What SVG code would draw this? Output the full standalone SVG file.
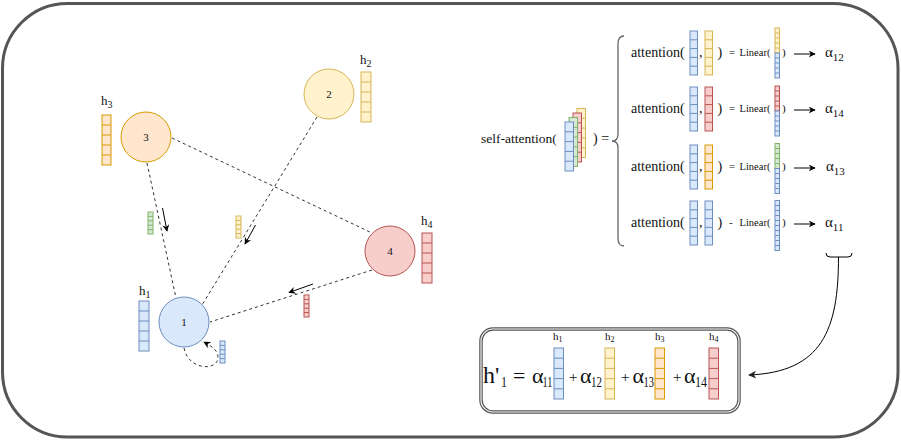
<svg xmlns="http://www.w3.org/2000/svg" width="901" height="441" viewBox="0 0 901 441">
  <defs>
    <marker id="arr" viewBox="0 0 10 10" refX="9" refY="5" markerWidth="7" markerHeight="7" orient="auto" markerUnits="userSpaceOnUse">
      <path d="M0,0 L10,5 L0,10 L3,5 Z" fill="#000"/>
    </marker>
    <marker id="arrS" viewBox="0 0 10 10" refX="9" refY="5" markerWidth="8" markerHeight="8" orient="auto" markerUnits="userSpaceOnUse">
      <path d="M0,0 L10,5 L0,10 L3,5 Z" fill="#222"/>
    </marker>
    <style>
      text { font-family: "Liberation Serif", "Times New Roman", serif; fill: #111; }
      .b rect, .b path { fill: #dae8fc; stroke: #6c8ebf; stroke-width: 1; }
      .y rect, .y path { fill: #fff2cc; stroke: #d6b656; stroke-width: 1; }
      .o rect, .o path { fill: #ffe6cc; stroke: #d79b00; stroke-width: 1; }
      .r rect, .r path { fill: #f8cecc; stroke: #b85450; stroke-width: 1; }
      .g rect, .g path { fill: #d5e8d4; stroke: #82b366; stroke-width: 1; }
      .edge { fill: none; stroke: #333; stroke-width: 1; stroke-dasharray: 3 3; }
      .flow { fill: none; stroke: #000; stroke-width: 1; }
      .lbl { font-size: 11px; text-anchor: middle; }
      .sub { font-size: 14px; }
    </style>
  </defs>

  <!-- outer frame -->
  <rect x="2.5" y="3.5" width="895.5" height="433.5" rx="65" ry="65" fill="#fff" stroke="#555" stroke-width="3"/>

  <!-- graph connectors -->
  <g id="connectors">
    <line class="edge" x1="147" y1="163" x2="176" y2="298"/>
    <line class="edge" x1="317" y1="117" x2="202" y2="305"/>
    <line class="edge" x1="172" y1="138" x2="372" y2="233"/>
    <line class="edge" x1="372" y1="270" x2="210" y2="322"/>
    <path class="edge" d="M184,348 C188,370 218,372 218,357 C218,350 211,346 204,342" marker-end="url(#arr)"/>
    <!-- message direction arrows -->
    <line class="flow" x1="162.5" y1="208" x2="167" y2="231" marker-end="url(#arr)"/>
    <line class="flow" x1="255.5" y1="225" x2="245" y2="244" marker-end="url(#arr)"/>
    <line class="flow" x1="313" y1="284" x2="289" y2="292.5" marker-end="url(#arr)"/>
    <!-- weights feed the aggregation -->
    <path class="flow" d="M826,253 Q826,257 830,257 L848,257 Q852,257 852,253" stroke="#333"/>
    <path class="flow" d="M838.5,257 C838.5,330 822,372 749,375" stroke="#333" marker-end="url(#arrS)"/>
  </g>

  <!-- graph nodes -->
  <g id="node1">
    <circle cx="184" cy="322" r="25" fill="#dae8fc" stroke="#6c8ebf"/>
    <text class="lbl" x="184" y="326">1</text>
  </g>
  <g id="node2">
    <circle cx="329" cy="94" r="25" fill="#fff2cc" stroke="#d6b656"/>
    <text class="lbl" x="329" y="98">2</text>
  </g>
  <g id="node3">
    <circle cx="146" cy="137" r="25" fill="#ffe6cc" stroke="#d79b00"/>
    <text class="lbl" x="146" y="141">3</text>
  </g>
  <g id="node4">
    <circle cx="390" cy="251" r="25" fill="#f8cecc" stroke="#b85450"/>
    <text class="lbl" x="390" y="255">4</text>
  </g>

  <!-- node feature vectors -->
  <g id="h1">
    <text x="139" y="295" font-size="13">h<tspan font-size="10" dy="3">1</tspan></text>
    <g class="b"><rect x="139" y="301" width="10" height="50"/><path d="M139,311h10M139,321h10M139,331h10M139,341h10"/></g>
  </g>
  <g id="h2">
    <text x="360" y="64" font-size="13">h<tspan font-size="10" dy="3">2</tspan></text>
    <g class="y"><rect x="361" y="72" width="10" height="50"/><path d="M361,82h10M361,92h10M361,102h10M361,112h10"/></g>
  </g>
  <g id="h3">
    <text x="101" y="105" font-size="13">h<tspan font-size="10" dy="3">3</tspan></text>
    <g class="o"><rect x="102" y="115" width="9" height="50"/><path d="M102,125h9M102,135h9M102,145h9M102,155h9"/></g>
  </g>
  <g id="h4">
    <text x="421" y="225" font-size="13">h<tspan font-size="10" dy="3">4</tspan></text>
    <g class="r"><rect x="422" y="233" width="10" height="50"/><path d="M422,243h10M422,253h10M422,263h10M422,273h10"/></g>
  </g>

  <!-- messages along edges -->
  <g id="msg3" class="g"><rect x="148" y="212" width="5" height="22"/><path d="M148,216.4h5M148,220.8h5M148,225.2h5M148,229.6h5"/></g>
  <g id="msg2" class="y"><rect x="236" y="216" width="5" height="22"/><path d="M236,220.4h5M236,224.8h5M236,229.2h5M236,233.6h5"/></g>
  <g id="msg4" class="r"><rect x="304" y="295" width="5" height="22"/><path d="M304,299.4h5M304,303.8h5M304,308.2h5M304,312.6h5"/></g>
  <g id="msg1" class="b"><rect x="220" y="341" width="5" height="22"/><path d="M220,345.4h5M220,349.8h5M220,354.2h5M220,358.6h5"/></g>

  <!-- self-attention over stacked features -->
  <g id="self-attention">
    <text x="481" y="143" font-size="13.5">self-attention(</text>
    <g class="y"><rect x="577" y="108.5" width="8.5" height="49"/><path d="M577,118.3h8.5M577,128.1h8.5M577,137.9h8.5M577,147.7h8.5"/></g>
    <g class="r"><rect x="573" y="113" width="8.5" height="49"/><path d="M573,122.8h8.5M573,132.6h8.5M573,142.4h8.5M573,152.2h8.5"/></g>
    <g class="g"><rect x="569" y="117.5" width="8.5" height="49"/><path d="M569,127.3h8.5M569,137.1h8.5M569,146.9h8.5M569,156.7h8.5"/></g>
    <g class="b"><rect x="565" y="122" width="8.5" height="49"/><path d="M565,131.8h8.5M565,141.6h8.5M565,151.4h8.5M565,161.2h8.5"/></g>
    <text x="593" y="143" font-size="14">) =</text>
    <path d="M624,36 Q618,36 618,44 L618,134 Q618,141 612,141 Q618,141 618,148 L618,238 Q618,246 624,246" fill="none" stroke="#666" stroke-width="1.3"/>
  </g>

  <!-- pairwise attention rows -->
  <g id="row12">
    <text x="631" y="57" font-size="14">attention(</text>
    <g class="b"><rect x="690" y="31" width="7.5" height="44"/><path d="M690,39.8h7.5M690,48.6h7.5M690,57.4h7.5M690,66.2h7.5"/></g>
    <text x="699" y="57" font-size="14">,</text>
    <g class="y"><rect x="705" y="31" width="7.5" height="44"/><path d="M705,39.8h7.5M705,48.6h7.5M705,57.4h7.5M705,66.2h7.5"/></g>
    <text x="717.5" y="57" font-size="14">)</text>
    <text x="729" y="56" font-size="11">=</text>
    <text x="739.5" y="56" font-size="10.5">Linear(</text>
    <g class="y"><rect x="775" y="28" width="4.5" height="25"/><path d="M775,33h4.5M775,38h4.5M775,43h4.5M775,48h4.5"/></g>
    <g class="b"><rect x="775" y="53" width="4.5" height="25"/><path d="M775,58h4.5M775,63h4.5M775,68h4.5M775,73h4.5"/></g>
    <text x="782" y="56" font-size="11">)</text>
    <line class="flow" x1="794" y1="54" x2="815" y2="54" marker-end="url(#arr)"/>
    <text x="825" y="57" font-size="15">α<tspan font-size="11" dy="4">12</tspan></text>
  </g>
  <g id="row14">
    <text x="631" y="113" font-size="14">attention(</text>
    <g class="b"><rect x="690" y="87" width="7.5" height="44"/><path d="M690,95.8h7.5M690,104.6h7.5M690,113.4h7.5M690,122.2h7.5"/></g>
    <text x="699" y="113" font-size="14">,</text>
    <g class="r"><rect x="705" y="87" width="7.5" height="44"/><path d="M705,95.8h7.5M705,104.6h7.5M705,113.4h7.5M705,122.2h7.5"/></g>
    <text x="717.5" y="113" font-size="14">)</text>
    <text x="729" y="112" font-size="11">=</text>
    <text x="739.5" y="112" font-size="10.5">Linear(</text>
    <g class="r"><rect x="775" y="86" width="4.5" height="25"/><path d="M775,91h4.5M775,96h4.5M775,101h4.5M775,106h4.5"/></g>
    <g class="b"><rect x="775" y="111" width="4.5" height="25"/><path d="M775,116h4.5M775,121h4.5M775,126h4.5M775,131h4.5"/></g>
    <text x="782" y="112" font-size="11">)</text>
    <line class="flow" x1="794" y1="110" x2="815" y2="110" marker-end="url(#arr)"/>
    <text x="825" y="113" font-size="15">α<tspan font-size="11" dy="4">14</tspan></text>
  </g>
  <g id="row13">
    <text x="631" y="171" font-size="14">attention(</text>
    <g class="b"><rect x="690" y="145" width="7.5" height="44"/><path d="M690,153.8h7.5M690,162.6h7.5M690,171.4h7.5M690,180.2h7.5"/></g>
    <text x="699" y="171" font-size="14">,</text>
    <g class="o"><rect x="705" y="145" width="7.5" height="44"/><path d="M705,153.8h7.5M705,162.6h7.5M705,171.4h7.5M705,180.2h7.5"/></g>
    <text x="717.5" y="171" font-size="14">)</text>
    <text x="729" y="170" font-size="11">=</text>
    <text x="739.5" y="170" font-size="10.5">Linear(</text>
    <g class="g"><rect x="775" y="143.5" width="4.5" height="25"/><path d="M775,148.5h4.5M775,153.5h4.5M775,158.5h4.5M775,163.5h4.5"/></g>
    <g class="b"><rect x="775" y="168.5" width="4.5" height="25"/><path d="M775,173.5h4.5M775,178.5h4.5M775,183.5h4.5M775,188.5h4.5"/></g>
    <text x="782" y="170" font-size="11">)</text>
    <line class="flow" x1="794" y1="168" x2="815" y2="168" marker-end="url(#arr)"/>
    <text x="826" y="171" font-size="15">α<tspan font-size="11" dy="4">13</tspan></text>
  </g>
  <g id="row11">
    <text x="631" y="227" font-size="14">attention(</text>
    <g class="b"><rect x="690" y="201" width="7.5" height="44"/><path d="M690,209.8h7.5M690,218.6h7.5M690,227.4h7.5M690,236.2h7.5"/></g>
    <text x="699" y="227" font-size="14">,</text>
    <g class="b"><rect x="705" y="201" width="7.5" height="44"/><path d="M705,209.8h7.5M705,218.6h7.5M705,227.4h7.5M705,236.2h7.5"/></g>
    <text x="717.5" y="227" font-size="14">)</text>
    <text x="729" y="226" font-size="11">-</text>
    <text x="739.5" y="226" font-size="10.5">Linear(</text>
    <g class="b"><rect x="775" y="200.5" width="4.5" height="50"/><path d="M775,205.5h4.5M775,210.5h4.5M775,215.5h4.5M775,220.5h4.5M775,225.5h4.5M775,230.5h4.5M775,235.5h4.5M775,240.5h4.5M775,245.5h4.5"/></g>
    <text x="782" y="226" font-size="11">)</text>
    <line class="flow" x1="794" y1="224" x2="815" y2="224" marker-end="url(#arr)"/>
    <text x="825" y="227" font-size="15">α<tspan font-size="11" dy="4">11</tspan></text>
  </g>

  <!-- weighted aggregation -->
  <g id="aggregate">
    <rect x="481" y="329" width="258" height="83" rx="12" ry="12" fill="#fff" stroke="#555" stroke-width="3.5"/>
    <rect x="481" y="329" width="258" height="83" rx="12" ry="12" fill="none" stroke="#fff" stroke-width="1.1"/>
    <text x="483" y="383" font-size="24">h'</text>
    <text x="501" y="387" class="sub" textLength="6" lengthAdjust="spacingAndGlyphs">1</text>
    <text x="513" y="383" font-size="22">=</text>
    <text x="532" y="383" font-size="22">α</text>
    <text x="542.5" y="387" class="sub" textLength="10" lengthAdjust="spacingAndGlyphs">11</text>
    <text x="553" y="340" font-size="11">h<tspan font-size="8" dy="2">1</tspan></text>
    <g class="b"><rect x="554" y="348" width="9.5" height="51"/><path d="M554,358.2h9.5M554,368.4h9.5M554,378.6h9.5M554,388.8h9.5"/></g>
    <text x="569" y="382" font-size="15">+</text>
    <text x="580" y="383" font-size="22">α</text>
    <text x="591" y="387" class="sub" textLength="11" lengthAdjust="spacingAndGlyphs">12</text>
    <text x="605" y="340" font-size="11">h<tspan font-size="8" dy="2">2</tspan></text>
    <g class="y"><rect x="605" y="348" width="9.5" height="51"/><path d="M605,358.2h9.5M605,368.4h9.5M605,378.6h9.5M605,388.8h9.5"/></g>
    <text x="621" y="382" font-size="15">+</text>
    <text x="632.5" y="383" font-size="22">α</text>
    <text x="643.5" y="387" class="sub" textLength="10.5" lengthAdjust="spacingAndGlyphs">13</text>
    <text x="655" y="340" font-size="11">h<tspan font-size="8" dy="2">3</tspan></text>
    <g class="o"><rect x="655" y="348" width="9.5" height="51"/><path d="M655,358.2h9.5M655,368.4h9.5M655,378.6h9.5M655,388.8h9.5"/></g>
    <text x="673" y="382" font-size="15">+</text>
    <text x="684" y="383" font-size="22">α</text>
    <text x="695" y="387" class="sub" textLength="12" lengthAdjust="spacingAndGlyphs">14</text>
    <text x="709" y="340" font-size="11">h<tspan font-size="8" dy="2">4</tspan></text>
    <g class="r"><rect x="709" y="348" width="9.5" height="51"/><path d="M709,358.2h9.5M709,368.4h9.5M709,378.6h9.5M709,388.8h9.5"/></g>
  </g>
</svg>
